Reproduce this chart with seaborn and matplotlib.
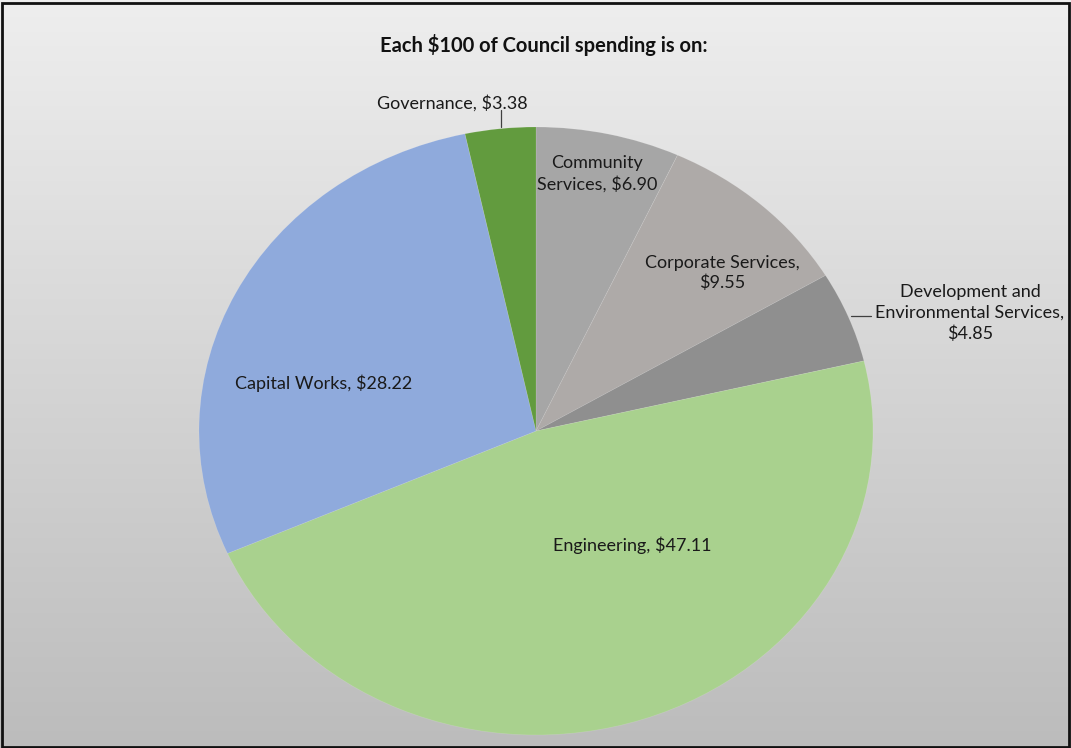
import numpy as np
import matplotlib
matplotlib.use("Agg")
import matplotlib.pyplot as plt
import seaborn as sns

# Spending breakdown per $100
categories = ["Community Services", "Corporate Services",
              "Development and Environmental Services", "Engineering",
              "Capital Works", "Governance"]
amounts = [6.90, 9.55, 4.85, 47.11, 28.22, 3.38]
label_texts = ["Community\nServices, $6.90", "Corporate Services,\n$9.55",
               "Development and\nEnvironmental Services,\n$4.85",
               "Engineering, $47.11", "Capital Works, $28.22",
               "Governance, $3.38"]
slice_colors = ["#a6a6a6", "#aeaaa8", "#8f8f8f", "#a9d18e", "#8faadc", "#629b3e"]

sns.set_theme(style="white")
plt.rcParams["font.family"] = ["Lato", "DejaVu Sans"]

W, H = 1071, 748
fig = plt.figure(figsize=(W / 100, H / 100), dpi=100)

# vertical grey gradient background
bg = fig.add_axes([0, 0, 1, 1], zorder=0)
grad = np.linspace(0, 1, 256).reshape(-1, 1)
bg.imshow(grad, aspect="auto", cmap=matplotlib.colors.LinearSegmentedColormap.from_list(
    "bg", ["#eeeeee", "#bcbcbc"]), extent=[0, 1, 0, 1], origin="upper")
bg.set_axis_off()

# pie axes: radius 1 maps to 337 px horizontally and 304 px vertically
cx, cy, rx, ry = 536, 431, 337, 304
ax = fig.add_axes([0, 0, 1, 1], zorder=1)
ax.patch.set_alpha(0)
wedges, _ = ax.pie(amounts, colors=slice_colors, startangle=90, counterclock=False,
                   normalize=True, wedgeprops=dict(linewidth=0.5, edgecolor=(1, 1, 1, 0.15)))
ax.set_aspect("auto")
ax.set_xlim(-cx / rx, (W - cx) / rx)
ax.set_ylim((cy - H) / ry, cy / ry)
ax.set_axis_off()

def px(x, y):
    return (x - cx) / rx, (cy - y) / ry

# label anchors (pixels)
label_pos = [(597, 174), (722, 273), (970, 313), (632, 545), (324, 383), (452, 103)]
spacings = [1.3, 1.2, 1.35, 1.2, 1.2, 1.2]
for txt, (x, y), ls in zip(label_texts, label_pos, spacings):
    ax.text(*px(x, y), txt, ha="center", va="center", fontsize=13,
            color="#1a1a1a", linespacing=ls)

# leader lines
ax.plot(*zip(px(501, 110), px(501, 127)), color="#404040", lw=0.9)
ax.plot(*zip(px(851, 316), px(871, 316)), color="#404040", lw=0.9)

fig.text(544 / W, 1 - 45 / H, "Each $100 of Council spending is on:", ha="center",
         va="center", fontsize=14.5, fontweight="bold", color="#111111")

# outer border
fig.patches.append(plt.Rectangle((1.5 / W, 1.5 / H), 1 - 3.5 / W, 1 - 4 / H,
                                 transform=fig.transFigure, fill=False,
                                 edgecolor="#111111", linewidth=2, zorder=5))

fig.savefig("out.png", dpi=100)
